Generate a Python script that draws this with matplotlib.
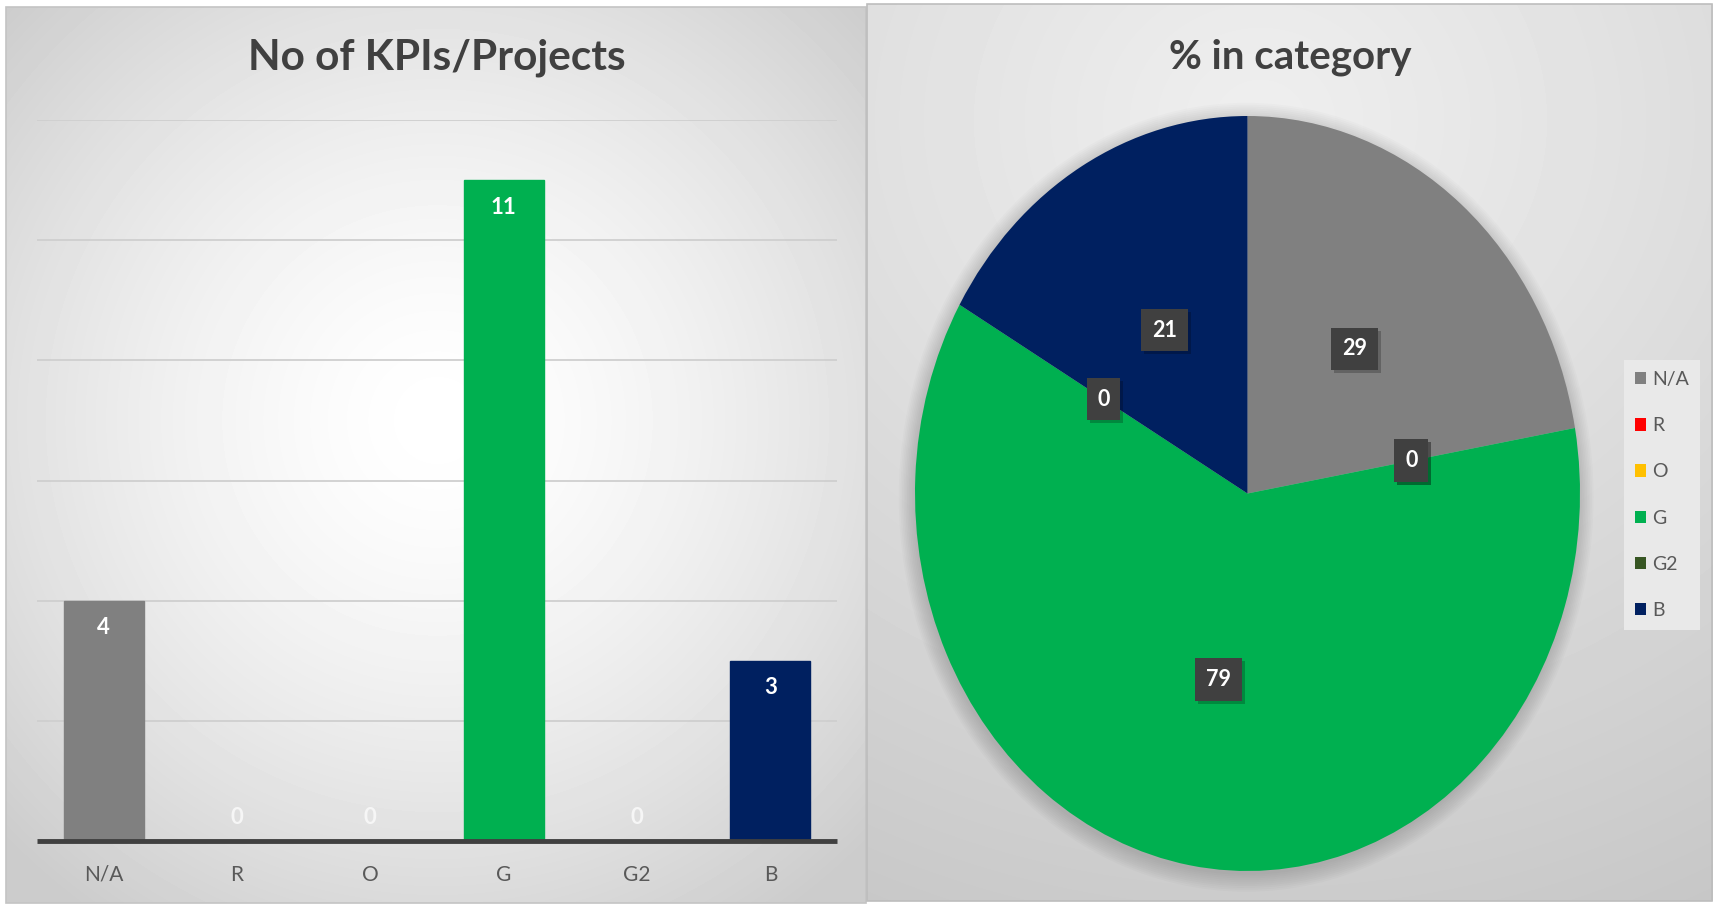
import numpy as np
import matplotlib.pyplot as plt
from matplotlib import patches, transforms

categories = ['N/A', 'R', 'O', 'G', 'G2', 'B']
counts = [4, 0, 0, 11, 0, 3]
pct_labels = ['29', '0', '0', '79', '0', '21']
colors = ['#808080', '#FF0000', '#FFC000', '#00B050', '#375623', '#002060']

plt.rcParams['font.family'] = ['Lato', 'DejaVu Sans']

W, H = 1713, 907
fig = plt.figure(figsize=(W / 100, H / 100), dpi=100)

# background panels (gradients)
bg = fig.add_axes([0, 0, 1, 1])
bg.axis('off')
yy, xx = np.mgrid[0:H, 0:W]
img = np.ones((H, W))
left = (xx >= 6) & (xx < 866) & (yy >= 7) & (yy < 903)
d = np.clip(np.hypot(xx - 437, yy - 420) / 600, 0, 1)
img[left] = (1.0 - 0.2 * d ** 1.5)[left]
right = (xx >= 867) & (yy >= 4) & (yy < 901)
d2 = np.clip(np.hypot((xx - 1260) * 0.9, yy - 120) / 900, 0, 1)
img[right] = (0.935 - 0.16 * d2 ** 1.1)[right]
bg.imshow(img, cmap='gray', vmin=0, vmax=1, extent=[0, W, H, 0],
          aspect='auto', interpolation='bilinear')
bg.set_xlim(0, W)
bg.set_ylim(H, 0)
bg.add_patch(patches.Rectangle((6, 7), 860, 896, fill=False, ec='#c4c4c4', lw=1.2))
bg.add_patch(patches.Rectangle((867, 4), 845, 897, fill=False, ec='#bdbdbd', lw=1.2))

# ---- bar chart ----
ax = fig.add_axes([37 / W, 66 / H, 800 / W, 721 / H])
ax.patch.set_alpha(0)
x = np.arange(len(categories))
bars = ax.bar(x, counts, width=0.6, color=colors, edgecolor=colors, lw=1, zorder=3)
ax.set_xlim(-0.5, len(categories) - 0.5)
ax.set_ylim(0, 12)
ax.set_yticks(np.arange(0, 13, 2))
ax.yaxis.grid(True, color='#cfcfcf', lw=1.3, zorder=0)
ax.tick_params(axis='y', left=False, labelleft=False)
ax.set_xticks(x, categories)
ax.tick_params(axis='x', length=0, pad=17, labelsize=15, labelcolor='#595959')
for s in ax.spines.values():
    s.set_visible(False)
ax.axhline(0, color='#404040', lw=3.5, zorder=4, clip_on=False, solid_capstyle='butt')
for b, v in zip(bars, counts):
    if v > 0:
        ax.annotate(str(v), (b.get_x() + b.get_width() / 2, v), xytext=(0, -27),
                    textcoords='offset pixels', ha='center', va='center',
                    color='white', fontsize=16, fontweight='bold', zorder=5)
    else:
        ax.annotate(str(v), (b.get_x() + b.get_width() / 2, 0), xytext=(0, 24),
                    textcoords='offset pixels', ha='center', va='center',
                    color='#f6f6f6', fontsize=16, fontweight='bold', zorder=5)

fig.text(437 / W, 1 - 58 / H, 'No of KPIs/Projects', ha='center', va='center',
         fontsize=30.5, fontweight='bold', color='#404040')

# ---- pie chart ----
pax = fig.add_axes([915 / W, 36 / H, 665 / W, 755 / H])
wedges, _ = pax.pie(counts, colors=colors, startangle=90, counterclock=False,
                    radius=1, wedgeprops=dict(zorder=2))
pax.set_aspect('auto')
pax.set_xlim(-1, 1)
pax.set_ylim(-1, 1)
for k in range(10):
    pax.add_patch(patches.Circle((-0.004, -0.01), 1 + 0.005 * k, fc='black',
                                 alpha=0.015, ec='none', zorder=0, clip_on=False))

for w, lab in zip(wedges, pct_labels):
    ang = np.deg2rad((w.theta1 + w.theta2) / 2)
    px, py = 0.5 * np.cos(ang), 0.5 * np.sin(ang)
    sh = transforms.offset_copy(pax.transData, fig=fig, x=3, y=-3, units='dots')
    pax.text(px, py, lab, transform=sh, ha='center', va='center', fontsize=15.5,
             fontweight='bold', color=(0, 0, 0, 0), zorder=4,
             bbox=dict(boxstyle='square,pad=0.5', fc='black', alpha=0.22, ec='none'))
    pax.text(px, py, lab, ha='center', va='center', fontsize=15.5,
             fontweight='bold', color='white', zorder=5,
             bbox=dict(boxstyle='square,pad=0.5', fc='#404040', ec='none'))

fig.text(1290 / W, 1 - 57 / H, '% in category', ha='center', va='center',
         fontsize=29, fontweight='bold', color='#404040')

leg = fig.legend(wedges, categories, loc='center', bbox_to_anchor=(1662 / W, 1 - 495 / H),
                 frameon=True, fancybox=False, facecolor='#e9e9e9', edgecolor='none',
                 framealpha=1, fontsize=14, labelcolor='#595959', handlelength=0.6,
                 handleheight=0.6, handletextpad=0.3, labelspacing=1.5,
                 borderpad=0.55)

fig.savefig('out.png', dpi=100)
